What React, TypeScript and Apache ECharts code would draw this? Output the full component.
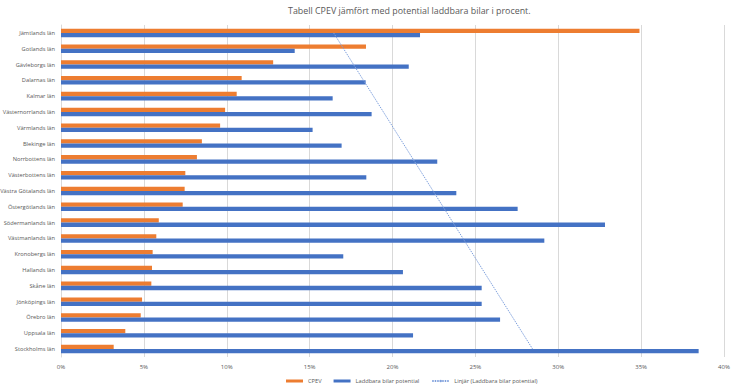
import React, { useEffect, useRef } from "react";
import * as echarts from "echarts";

const categories = [
  "Jämtlands län",
  "Gotlands län",
  "Gävleborgs län",
  "Dalarnas län",
  "Kalmar län",
  "Västernorrlands län",
  "Värmlands län",
  "Blekinge län",
  "Norrbottens län",
  "Västerbottens län",
  "Västra Götalands län",
  "Östergötlands län",
  "Södermanlands län",
  "Västmanlands län",
  "Kronobergs län",
  "Hallands län",
  "Skåne län",
  "Jönköpings län",
  "Örebro län",
  "Uppsala län",
  "Stockholms län",
];

const cpev = [
  0.349, 0.184, 0.128, 0.109, 0.106, 0.099, 0.096, 0.085, 0.082, 0.075, 0.0746,
  0.0734, 0.059, 0.0575, 0.0553, 0.0549, 0.0545, 0.0489, 0.0481, 0.0388, 0.0318,
];

const potential = [
  0.2166, 0.141, 0.2098, 0.1838, 0.1639, 0.1874, 0.1518, 0.1693, 0.227, 0.1842,
  0.2385, 0.2755, 0.3282, 0.2916, 0.1703, 0.2063, 0.2538, 0.2538, 0.2649,
  0.2124, 0.3847,
];

const xTicks = [0, 0.05, 0.1, 0.15, 0.2, 0.25, 0.3, 0.35, 0.4];

const seriesNames = [
  "CPEV",
  "Laddbara bilar potential",
  "Linjär (Laddbara bilar potential)",
];

// Linear trendline (least squares) of the potential series over category index
function trendEndpoints(values: number[]) {
  const n = values.length;
  const mx = (n - 1) / 2;
  const my = values.reduce((a, b) => a + b, 0) / n;
  let sxy = 0;
  let sxx = 0;
  values.forEach((v, i) => {
    sxy += (i - mx) * (v - my);
    sxx += (i - mx) * (i - mx);
  });
  const slope = sxy / sxx;
  const b = my - slope * mx;
  return [
    [b, categories[0]],
    [b + slope * (n - 1), categories[n - 1]],
  ];
}

export default function App() {
  const ref = useRef<HTMLDivElement>(null);

  useEffect(() => {
    if (!ref.current) return;
    const chart = echarts.init(ref.current, undefined, { renderer: "svg" });
    const font = "Open Sans";
    chart.setOption({
      animation: false,
      textStyle: { fontFamily: font },
      title: {
        text: "Tabell CPEV jämfört med potential laddbara bilar i procent.",
        left: 288,
        top: 6,
        padding: 0,
        textStyle: {
          fontFamily: font,
          fontSize: 8.9,
          fontWeight: "normal",
          color: "#595959",
        },
      },
      legend: {
        bottom: 2,
        left: 286,
        padding: 0,
        itemGap: 12,
        itemWidth: 17,
        itemHeight: 3,
        textStyle: { fontSize: 5.7, color: "#595959", fontFamily: font },
        data: [
          { name: seriesNames[0], icon: "rect" },
          { name: seriesNames[1], icon: "rect" },
          { name: seriesNames[2] },
        ],
      },
      grid: {
        left: 61,
        right: 12,
        top: 25,
        bottom: 29,
        containLabel: false,
        outerBoundsMode: "none",
      },
      xAxis: {
        type: "value",
        min: 0,
        max: 0.4,
        interval: 0.05,
        axisLine: { show: false },
        axisTick: { show: false },
        splitLine: { lineStyle: { color: "#d9d9d9", width: 1 } },
        axisLabel: {
          fontSize: 6,
          color: "#595959",
          margin: 7,
          formatter: (v: number) =>
            xTicks.some((t) => Math.abs(t - v) < 1e-9)
              ? Math.round(v * 100) + "%"
              : "",
        },
      },
      yAxis: {
        type: "category",
        data: categories,
        inverse: true,
        axisLine: { show: true, lineStyle: { color: "#d9d9d9" } },
        axisTick: { show: false },
        axisLabel: { fontSize: 5.7, color: "#595959", margin: 6 },
      },
      series: [
        {
          name: seriesNames[0],
          type: "bar",
          data: cpev,
          itemStyle: { color: "#ED7D31" },
          barGap: "0%",
          barCategoryGap: "46%",
        },
        {
          name: seriesNames[1],
          type: "bar",
          data: potential,
          itemStyle: { color: "#4472C4" },
          barGap: "0%",
          barCategoryGap: "46%",
        },
        {
          name: seriesNames[2],
          type: "line",
          data: trendEndpoints(potential),
          symbol: "none",
          itemStyle: { color: "#7FA0DC" },
          lineStyle: { color: "#7FA0DC", width: 1, type: [1.5, 1] },
        },
      ],
    });
    return () => chart.dispose();
  }, []);

  return (
    <div
      ref={ref}
      style={{ width: 736, height: 386, position: "absolute", left: 0, top: 0, background: "#fff" }}
    />
  );
}
